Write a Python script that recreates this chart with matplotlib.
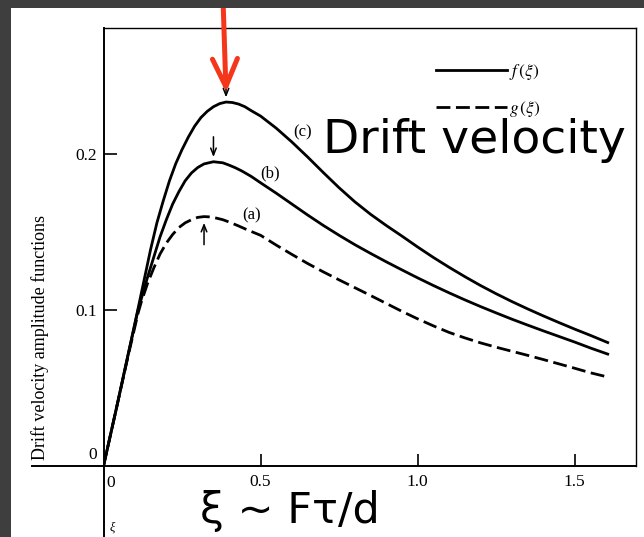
import matplotlib.pyplot as plt
from matplotlib.patches import Rectangle
from matplotlib.lines import Line2D

# curve (c): f(xi)
xi_c = [0, 0.04, 0.08, 0.11, 0.13, 0.15, 0.17, 0.19, 0.21, 0.23, 0.25, 0.27, 0.29,
        0.31, 0.33, 0.35, 0.37, 0.39, 0.41, 0.43, 0.45, 0.47, 0.50, 0.55,
        0.60, 0.65, 0.70, 0.75, 0.80, 0.85, 0.90, 0.95, 1.00, 1.05, 1.10, 1.15,
        1.20, 1.25, 1.30, 1.35, 1.40, 1.45, 1.50, 1.55, 1.605]
f_c = [0, 0.036, 0.073, 0.101, 0.120, 0.139, 0.156, 0.170, 0.183, 0.194, 0.203,
       0.211, 0.218, 0.2235, 0.2275, 0.2305, 0.2325, 0.2335, 0.2332, 0.2322,
       0.2305, 0.228, 0.2245, 0.2167, 0.2078, 0.1982, 0.1882, 0.1785,
       0.1695, 0.1615, 0.1543, 0.1475, 0.1405, 0.1338, 0.1275, 0.1215, 0.1158,
       0.1105, 0.1055, 0.1008, 0.0963, 0.092, 0.0878, 0.0838, 0.0792]

# curve (b): f(xi)
xi_b = [0, 0.04, 0.08, 0.11, 0.12, 0.14, 0.16, 0.18, 0.20, 0.22, 0.24, 0.26, 0.28,
        0.30, 0.32, 0.35, 0.38, 0.40, 0.42, 0.44, 0.47, 0.50, 0.55, 0.60, 0.65,
        0.70, 0.75, 0.80, 0.85, 0.90, 0.95, 1.00, 1.05, 1.10, 1.15, 1.20, 1.25,
        1.30, 1.35, 1.40, 1.45, 1.50, 1.55, 1.605]
f_b = [0, 0.036, 0.073, 0.100, 0.107, 0.121, 0.134, 0.147, 0.158, 0.168, 0.176,
       0.183, 0.188, 0.1915, 0.1938, 0.1952, 0.1945, 0.193, 0.1913, 0.1893,
       0.1858, 0.1817, 0.175, 0.168, 0.161, 0.1543, 0.148, 0.142, 0.1364,
       0.131, 0.1258, 0.1207, 0.1158, 0.1111, 0.1066, 0.1023, 0.0982, 0.0942,
       0.0904, 0.0867, 0.0831, 0.0795, 0.0757, 0.0718]

# curve (a): g(xi)
xi_a = [0, 0.04, 0.08, 0.11, 0.12, 0.14, 0.16, 0.18, 0.20, 0.22, 0.24, 0.26, 0.28,
        0.30, 0.32, 0.34, 0.36, 0.38, 0.40, 0.43, 0.46, 0.50, 0.55, 0.60, 0.65,
        0.70, 0.75, 0.80, 0.85, 0.90, 0.95, 1.00, 1.05, 1.10, 1.15, 1.20, 1.25,
        1.30, 1.35, 1.40, 1.45, 1.50, 1.55, 1.605]
g_a = [0, 0.036, 0.072, 0.098, 0.105, 0.117, 0.127, 0.136, 0.143, 0.1485, 0.153,
       0.156, 0.158, 0.1595, 0.160, 0.1598, 0.159, 0.158, 0.1565, 0.154, 0.1513,
       0.148, 0.1417, 0.1357, 0.1299, 0.1245, 0.1194, 0.1144, 0.1094, 0.1043,
       0.0992, 0.0944, 0.0899, 0.0857, 0.0822, 0.079, 0.0762, 0.0736, 0.071,
       0.0683, 0.0655, 0.0627, 0.0598, 0.0571]

xticks = [0.5, 1.0, 1.5]
xtick_labels = ['0.5', '1.0', '1.5']
yticks = [0.1, 0.2]
ytick_labels = ['0.1', '0.2']

plt.rcParams['font.family'] = ['Liberation Serif', 'DejaVu Serif']
plt.rcParams['mathtext.fontset'] = 'stix'

W, H = 644, 537
fig = plt.figure(figsize=(W / 100, H / 100), dpi=100)
fig.add_artist(Rectangle((0, 1 - 8 / H), 1, 8 / H, transform=fig.transFigure,
                         facecolor='#3e3e3e', edgecolor='none'))
fig.add_artist(Rectangle((0, 0), 11 / W, 1, transform=fig.transFigure,
                         facecolor='#3e3e3e', edgecolor='none'))

ax = fig.add_axes([103.5 / W, 1 - 466 / H, 532.5 / W, 438 / H])
dash = (0, (5, 2))
ax.plot(xi_c, f_c, color='k', lw=2)
ax.plot(xi_b, f_b, color='k', lw=2)
ax.plot(xi_a, g_a, color='k', lw=2, ls=dash)
ax.set_xlim(0, 1.695)
ax.set_ylim(0, 0.281)

ax.set_xticks(xticks)
ax.set_xticklabels(xtick_labels)
ax.set_yticks(yticks)
ax.set_yticklabels(ytick_labels)
ax.tick_params(direction='in', length=9, width=1.2, labelsize=12.5)
ax.tick_params(axis='x', pad=6)
ax.tick_params(axis='y', pad=4.5)
for side in ['top', 'right']:
    ax.spines[side].set_linewidth(1.0)
for side in ['left', 'bottom']:
    ax.spines[side].set_linewidth(1.4)

# axis lines carried past the origin
ax.plot([-0.228, 0], [0, 0], color='k', lw=1.4, clip_on=False)
ax.plot([0, 0], [0, -0.05], color='k', lw=1.4, clip_on=False)
ax.annotate('0', xy=(0, 0), xytext=(-4.5, 8), textcoords='offset points',
            ha='right', va='center', fontsize=12.5)
ax.annotate('0', xy=(0, 0), xytext=(5.5, -6.5), textcoords='offset points',
            ha='center', va='top', fontsize=12.5)
ax.annotate('ξ', xy=(0, 0), xytext=(6, -44), textcoords='offset points',
            ha='center', va='center', fontsize=9, style='italic')

fig.text(40 / W, 1 - 337 / H, 'Drift velocity amplitude functions', rotation=90,
         ha='center', va='center', fontsize=13)

# curve tags
ax.text(0.634, 0.214, '(c)', ha='center', va='center', fontsize=12)
ax.text(0.529, 0.188, '(b)', ha='center', va='center', fontsize=12)
ax.text(0.471, 0.161, '(a)', ha='center', va='center', fontsize=12)

# small arrows marking the maxima
kc = f_c.index(max(f_c))
kb = f_b.index(max(f_b))
ka = g_a.index(max(g_a))
small = dict(arrowstyle='->,head_length=0.5,head_width=0.2', lw=1.1, color='k',
             shrinkA=0, shrinkB=0)
ax.annotate('', xy=(xi_c[kc], f_c[kc] + 0.003), xytext=(xi_c[kc], f_c[kc] + 0.016),
            arrowprops=small)
ax.annotate('', xy=(xi_b[kb], f_b[kb] + 0.003), xytext=(xi_b[kb], f_b[kb] + 0.016),
            arrowprops=small)
ax.annotate('', xy=(xi_a[ka], g_a[ka] - 0.004), xytext=(xi_a[ka], g_a[ka] - 0.018),
            arrowprops=small)

# red pointer on the highest maximum
ax.annotate('', xy=(xi_c[kc], f_c[kc] + 0.006), xytext=(xi_c[kc] - 0.009, 0.296),
            annotation_clip=False,
            arrowprops=dict(arrowstyle='->,head_length=1.0,head_width=0.45',
                            mutation_scale=20, lw=3.6, color='#f4361b',
                            shrinkA=0, shrinkB=0))

handles = [Line2D([], [], color='k', lw=2), Line2D([], [], color='k', lw=2, ls=dash)]
ax.legend(handles, ['$f\\,(\\xi)$', '$g\\,(\\xi)$'], loc='upper left',
          bbox_to_anchor=(0.625, 0.922), frameon=False, fontsize=12.5,
          handlelength=4.1, handletextpad=0.1, labelspacing=0.95,
          borderpad=0, borderaxespad=0)

fig.text(323 / W, 1 - 153 / H, 'Drift velocity', family='DejaVu Sans',
         fontsize=34, ha='left', va='baseline')
fig.text(200 / W, 1 - 523 / H, 'ξ ~ Fτ/d', family='DejaVu Sans',
         fontsize=31, ha='left', va='baseline')

fig.savefig('out.png', dpi=100)
